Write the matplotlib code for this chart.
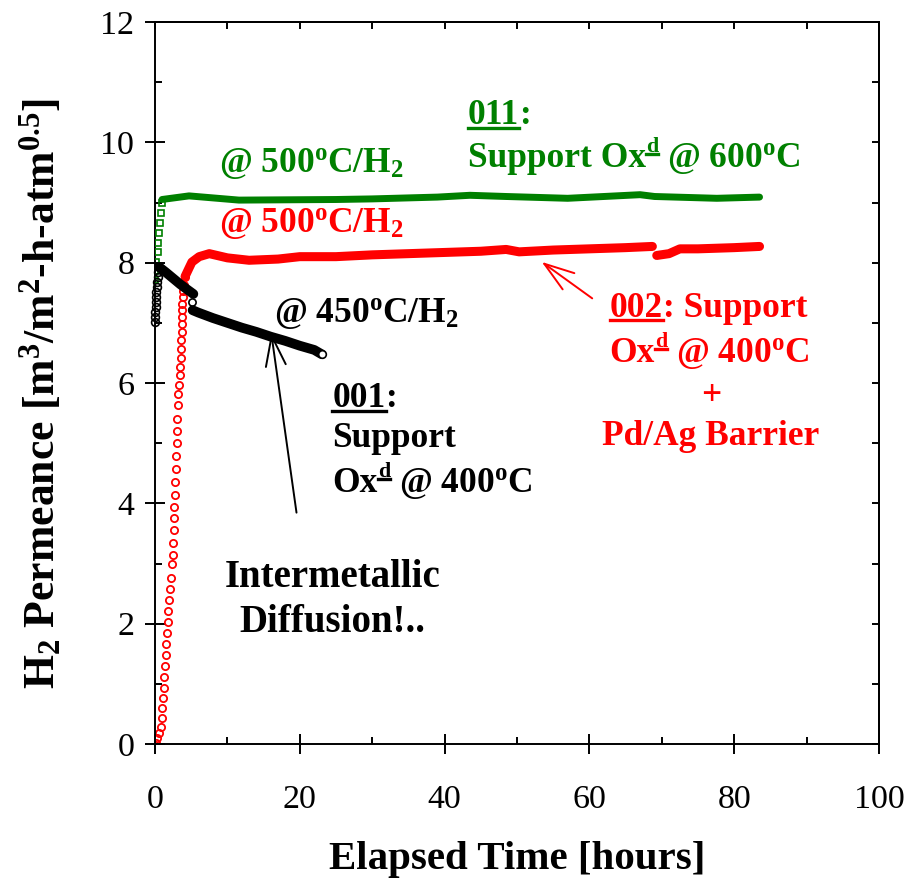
import matplotlib
matplotlib.use('Agg')
import matplotlib.pyplot as plt
from matplotlib.lines import Line2D
from matplotlib.transforms import IdentityTransform
from matplotlib.ticker import MultipleLocator

plt.rcParams['font.family'] = 'Liberation Serif'
plt.rcParams['mathtext.fontset'] = 'custom'
plt.rcParams['mathtext.rm'] = 'Liberation Serif:bold'
plt.rcParams['mathtext.it'] = 'Liberation Serif:bold'
plt.rcParams['mathtext.bf'] = 'Liberation Serif:bold'

# 001: support oxidised at 400 C
t001_rise = [0.0, 0.03, 0.06, 0.09, 0.12, 0.16, 0.2, 0.25, 0.3, 0.38, 0.46, 0.55]
p001_rise = [7.02, 7.1, 7.18, 7.27, 7.35, 7.43, 7.52, 7.6, 7.68, 7.77, 7.85, 7.93]
t001_a = [0.55, 1.5, 2.5, 3.5, 4.5, 5.3]
p001_a = [7.93, 7.84, 7.74, 7.64, 7.55, 7.48]
t001_gap = [5.1]
p001_gap = [7.35]
t001_b = [5.2, 6.0, 8.0, 10.0, 12.0, 14.0, 16.0, 18.0, 20.0, 22.0, 23.0]
p001_b = [7.21, 7.17, 7.08, 7.0, 6.92, 6.85, 6.77, 6.7, 6.62, 6.55, 6.48]

# 002: support oxidised at 400 C + Pd/Ag barrier
t002_rise = [0.14, 0.32, 0.55, 0.79, 0.9, 1.01, 1.11, 1.2, 1.29, 1.38, 1.48, 1.56,
             1.66, 1.76, 1.84, 1.94, 2.07, 2.21, 2.39, 2.49, 2.49, 2.59, 2.63, 2.67,
             2.77, 2.81, 2.86, 2.9, 3.0, 3.04, 3.08, 3.22, 3.22, 3.32, 3.42, 3.46,
             3.55, 3.55, 3.6, 3.69, 3.69, 3.78, 3.78, 3.78, 3.87, 3.87, 4.01, 4.15]
p002_rise = [0.02, 0.1, 0.18, 0.28, 0.43, 0.6, 0.76, 0.93, 1.11, 1.3, 1.48, 1.66,
             1.84, 2.03, 2.21, 2.39, 2.58, 2.76, 3.0, 3.14, 3.34, 3.56, 3.75, 3.94,
             4.14, 4.36, 4.57, 4.79, 5.0, 5.2, 5.41, 5.63, 5.81, 5.97, 6.13, 6.27,
             6.41, 6.56, 6.71, 6.85, 6.98, 7.1, 7.21, 7.32, 7.43, 7.53, 7.63, 7.77]
t002_a = [4.15, 4.7, 5.1, 6.1, 7.5, 10.0, 13.0, 17.0, 20.0, 25.0, 30.0, 35.0, 40.0,
          45.0, 48.5, 50.3, 55.0, 60.0, 65.0, 68.7]
p002_a = [7.77, 7.91, 8.01, 8.1, 8.15, 8.08, 8.04, 8.06, 8.1, 8.1, 8.13, 8.15, 8.17,
          8.19, 8.22, 8.18, 8.21, 8.23, 8.25, 8.27]
t002_b = [69.3, 71.0, 72.5, 75.0, 80.0, 83.5]
p002_b = [8.12, 8.15, 8.23, 8.23, 8.25, 8.27]

# 011: support oxidised at 600 C
t011_rise = [0.0, 0.07, 0.2, 0.35, 0.41, 0.55, 0.69, 0.83, 0.97]
p011_rise = [7.71, 7.86, 8.01, 8.18, 8.33, 8.5, 8.66, 8.83, 9.0]
t011 = [0.97, 4.7, 11.6, 25.0, 30.0, 39.0, 43.5, 48.5, 57.0, 67.0, 69.0, 77.6, 83.5]
p011 = [9.05, 9.11, 9.04, 9.05, 9.06, 9.09, 9.12, 9.1, 9.07, 9.13, 9.1, 9.07, 9.09]

GREEN = '#008000'
RED = '#ff0000'
BLACK = '#000000'

fig = plt.figure(figsize=(9.09, 8.8), dpi=100)
ax = fig.add_axes([0.1705, 0.1545, 0.7965, 0.8205])

ax.plot(t011_rise, p011_rise, 's', ms=4.0, mfc='none', mec=GREEN, mew=1.2, zorder=3)
ax.plot(t011, p011, '-', color=GREEN, lw=5.0, solid_capstyle='round', zorder=3)

ax.plot(t002_rise, p002_rise, 'o', ms=5.2, mfc='none', mec=RED, mew=1.3, zorder=2)
ax.plot(t002_a, p002_a, '-', color=RED, lw=6.5, solid_capstyle='round', zorder=2)
ax.plot(t002_b, p002_b, '-', color=RED, lw=6.5, solid_capstyle='round', zorder=2)

ax.plot(t001_rise, p001_rise, 'o', ms=5.6, mfc='none', mec=BLACK, mew=1.2, zorder=4,
        clip_on=False)
ax.plot(t001_a, p001_a, '-', color=BLACK, lw=7.0, solid_capstyle='round', zorder=4)
ax.plot(t001_gap, p001_gap, 'o', ms=5.2, mfc='white', mec=BLACK, mew=1.2, zorder=4)
ax.plot(t001_b, p001_b, '-', color=BLACK, lw=7.0, solid_capstyle='round', zorder=4)
ax.plot(t001_b[-1:], p001_b[-1:], 'o', ms=5.5, mfc='white', mec=BLACK, mew=1.2, zorder=5)

ax.set_xlim(0, 100)
ax.set_ylim(0, 12)
ax.xaxis.set_major_locator(MultipleLocator(20))
ax.xaxis.set_minor_locator(MultipleLocator(10))
ax.yaxis.set_major_locator(MultipleLocator(2))
ax.yaxis.set_minor_locator(MultipleLocator(1))
ax.tick_params(which='major', direction='inout', length=14, width=1.4)
ax.tick_params(which='minor', direction='in', length=5, width=1.4)
ax.tick_params(axis='x', which='major', labelsize=24.5, pad=22)
ax.tick_params(axis='y', which='major', labelsize=24.5, pad=8)
for sp in ax.spines.values():
    sp.set_linewidth(1.4)

# inward ticks along the top and right edges
for side in ('top', 'right'):
    sec = ax.secondary_xaxis('top') if side == 'top' else ax.secondary_yaxis('right')
    axis = sec.xaxis if side == 'top' else sec.yaxis
    axis.set_major_locator(MultipleLocator(20 if side == 'top' else 2))
    axis.set_minor_locator(MultipleLocator(10 if side == 'top' else 1))
    sec.tick_params(which='both', direction='in', width=1.4, length=5)
    axis.set_ticklabels([])
    sec.spines[side].set_linewidth(1.4)

ax.set_xlabel('Elapsed Time [hours]', fontsize=29.5, fontweight='bold')
ax.xaxis.set_label_coords(0.5, -0.134)
ax.set_ylabel(r'H$_{\mathrm{2}}$ Permeance [m$^{\mathrm{3}}$/m$^{\mathrm{2}}$-h-atm$^{\mathrm{0.5}}$]',
              fontsize=31.5, fontweight='bold')
ax.yaxis.set_label_coords(-0.126, 0.485)

ax.annotate('', xy=(16.0, 6.88), xytext=(19.6, 3.8),
            arrowprops=dict(arrowstyle='->,head_length=1.8,head_width=0.6',
                            mutation_scale=12, lw=1.4, color=BLACK))
ax.annotate('', xy=(53.1, 8.04), xytext=(60.7, 7.38),
            arrowprops=dict(arrowstyle='->,head_length=1.8,head_width=0.6',
                            mutation_scale=12, lw=1.4, color=RED))

renderer = fig.canvas.get_renderer()
ident = IdentityTransform()


def rich(xd, yd, parts, color, fs, ha='left'):
    # lay out bold text pieces on one baseline; 'u' underlines, 'sup' raises
    px, py = ax.transData.transform((xd, yd))
    em = fs * fig.dpi / 72
    arts = []
    x = px
    for s, kind in parts:
        if s == ' ':
            x += 0.25 * em
            continue
        sup = kind.startswith('sup')
        size = fs * 0.62 if sup else fs
        yb = py + (0.42 * em if sup else 0)
        t = fig.text(x, yb, s, transform=ident, fontsize=size, color=color,
                     fontweight='bold', va='baseline', ha='left')
        bb = t.get_window_extent(renderer)
        arts.append(t)
        if kind.endswith('u'):
            uy = yb - 0.1 * size * fig.dpi / 72
            ln = Line2D([bb.x0, bb.x1], [uy, uy], transform=ident, color=color, lw=2.4)
            fig.add_artist(ln)
            arts.append(ln)
        x = bb.x1
    if ha == 'center':
        shift = (x - px) / 2
        for a in arts:
            if isinstance(a, Line2D):
                a.set_xdata([v - shift for v in a.get_xdata()])
            else:
                x0, y0 = a.get_position()
                a.set_position((x0 - shift, y0))


FS = 25.5
rich(8.85, 9.5, [(r'@ 500$^{\mathrm{o}}$C/H$_{\mathrm{2}}$', 'n')], GREEN, FS)
rich(8.85, 8.51, [(r'@ 500$^{\mathrm{o}}$C/H$_{\mathrm{2}}$', 'n')], RED, FS)
rich(16.5, 7.01, [(r'@ 450$^{\mathrm{o}}$C/H$_{\mathrm{2}}$', 'n')], BLACK, FS)

rich(43.2, 10.3, [('011', 'u'), (':', 'n')], GREEN, FS)
rich(43.2, 9.59, [('Support Ox', 'n'), ('d', 'supu'), (' ', 'n'),
                  (r'@ 600$^{\mathrm{o}}$C', 'n')], GREEN, FS)

rich(24.5, 5.6, [('001', 'u'), (':', 'n')], BLACK, FS)
rich(24.5, 4.94, [('Support', 'n')], BLACK, FS)
rich(24.5, 4.19, [('Ox', 'n'), ('d', 'supu'), (' ', 'n'),
                  (r'@ 400$^{\mathrm{o}}$C', 'n')], BLACK, FS)

rich(24.5, 2.61, [('Intermetallic', 'n')], BLACK, 28, ha='center')
rich(24.5, 1.86, [('Diffusion!..', 'n')], BLACK, 28, ha='center')

rich(62.8, 7.1, [('002', 'u'), (': Support', 'n')], RED, FS)
rich(62.8, 6.35, [('Ox', 'n'), ('d', 'supu'), (' ', 'n'),
                  (r'@ 400$^{\mathrm{o}}$C', 'n')], RED, FS)
rich(76.8, 5.63, [('+', 'n')], RED, FS, ha='center')
rich(76.8, 4.97, [('Pd/Ag Barrier', 'n')], RED, FS, ha='center')

fig.savefig('out.png', dpi=100)
